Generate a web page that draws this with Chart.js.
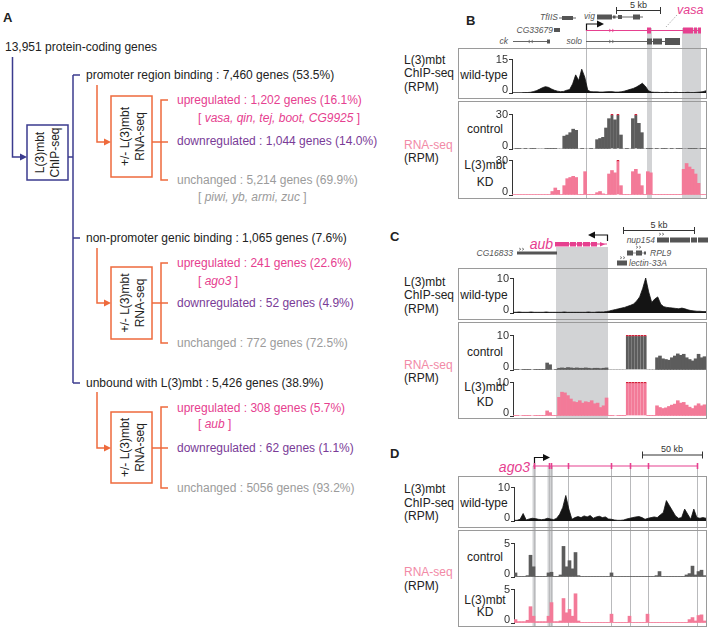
<!DOCTYPE html>
<html><head><meta charset="utf-8">
<script src="https://cdn.jsdelivr.net/npm/chart.js@4.4.1/dist/chart.umd.min.js"></script>
<style>
html,body{margin:0;padding:0;background:#fff;}
#root{position:relative;width:709px;height:628px;overflow:hidden;font-family:"Liberation Sans",Arial,sans-serif;}
#bg{position:absolute;left:0;top:0;}
canvas{position:absolute;}
</style></head><body><div id="root">
<svg id="bg" width="709" height="628" xmlns="http://www.w3.org/2000/svg" font-family="Liberation Sans, Arial, sans-serif">
<!-- ================= PANEL A ================= -->
<text x="3" y="22" font-size="13" font-weight="bold" fill="#222">A</text>
<text x="5" y="51" font-size="12" fill="#222">13,951 protein-coding genes</text>
<g stroke="#3b3b8e" stroke-width="1.5" fill="none">
  <polyline points="12.5,57 12.5,157 21,157"/>
  <rect x="27" y="125" width="41" height="55"/>
  <line x1="68" y1="157" x2="73" y2="157"/>
  <line x1="73" y1="75" x2="73" y2="383"/>
  <line x1="73" y1="75" x2="80" y2="75"/>
  <line x1="73" y1="238" x2="80" y2="238"/>
  <line x1="73" y1="383" x2="80" y2="383"/>
</g>
<polygon points="27,157 20,153.5 20,160.5" fill="#3b3b8e"/>
<text transform="translate(44,152.5) rotate(-90)" text-anchor="middle" font-size="12" fill="#222">L(3)mbt</text>
<text transform="translate(59,152.5) rotate(-90)" text-anchor="middle" font-size="12" fill="#222">ChIP-seq</text>

<g stroke="#ee6a3c" stroke-width="1.5" fill="none">
  <polyline points="97,85 97,142 105,142"/>
  <rect x="111" y="96" width="41" height="81"/>
  <line x1="152" y1="142" x2="168" y2="142"/>
  <polyline points="168,100 161,100 161,180 168,180"/>
  <polyline points="97,248 97,303 105,303"/>
  <rect x="111" y="267" width="41" height="72"/>
  <line x1="152" y1="303" x2="168" y2="303"/>
  <polyline points="168,263 161,263 161,343 168,343"/>
  <polyline points="97,392 97,448 105,448"/>
  <rect x="111" y="412" width="41" height="71"/>
  <line x1="152" y1="448" x2="168" y2="448"/>
  <polyline points="168,407 161,407 161,488 168,488"/>
</g>
<g fill="#ee6a3c">
  <polygon points="111,142 104,138.5 104,145.5"/>
  <polygon points="111,303 104,299.5 104,306.5"/>
  <polygon points="111,448 104,444.5 104,451.5"/>
</g>
<g font-size="12" fill="#222" text-anchor="middle">
  <text transform="translate(129,136.5) rotate(-90)">+/- L(3)mbt</text>
  <text transform="translate(144,136.5) rotate(-90)">RNA-seq</text>
  <text transform="translate(129,303) rotate(-90)">+/- L(3)mbt</text>
  <text transform="translate(144,303) rotate(-90)">RNA-seq</text>
  <text transform="translate(129,447.5) rotate(-90)">+/- L(3)mbt</text>
  <text transform="translate(144,447.5) rotate(-90)">RNA-seq</text>
</g>
<g font-size="12" xml:space="preserve">
  <text x="86" y="79" fill="#222">promoter region binding : 7,460 genes (53.5%)</text>
  <text x="177" y="104" fill="#e6408f">upregulated : 1,202 genes (16.1%)</text>
  <text x="198" y="122" fill="#e6408f">[  <tspan font-style="italic">vasa, qin, tej, boot, CG9925</tspan>  ]</text>
  <text x="177" y="145" fill="#7a3b97">downregulated : 1,044 genes (14.0%)</text>
  <text x="177" y="184" fill="#9b9b9b">unchanged : 5,214 genes (69.9%)</text>
  <text x="198" y="201" fill="#9b9b9b">[  <tspan font-style="italic">piwi, yb, armi, zuc</tspan>  ]</text>

  <text x="86" y="242" fill="#222">non-promoter genic binding : 1,065 genes (7.6%)</text>
  <text x="177" y="267" fill="#e6408f">upregulated : 241 genes (22.6%)</text>
  <text x="198" y="285" fill="#e6408f">[  <tspan font-style="italic">ago3</tspan>  ]</text>
  <text x="177" y="307" fill="#7a3b97">downregulated : 52 genes (4.9%)</text>
  <text x="177" y="347" fill="#9b9b9b">unchanged : 772 genes (72.5%)</text>

  <text x="86" y="387" fill="#222">unbound with L(3)mbt : 5,426 genes (38.9%)</text>
  <text x="177" y="412" fill="#e6408f">upregulated : 308 genes (5.7%)</text>
  <text x="198" y="428" fill="#e6408f">[  <tspan font-style="italic">aub</tspan>  ]</text>
  <text x="177" y="452" fill="#7a3b97">downregulated : 62 genes (1.1%)</text>
  <text x="177" y="492" fill="#9b9b9b">unchanged : 5056 genes (93.2%)</text>
</g>

<!-- ================= PANEL LETTERS ================= -->
<g font-size="13" font-weight="bold" fill="#222">
  <text x="466" y="25">B</text>
  <text x="390" y="241">C</text>
  <text x="390" y="458">D</text>
</g>

<!-- ================= SHADING / GUIDE LINES ================= -->
<g fill="#d2d3d5">
  <rect x="647" y="28" width="5" height="171"/>
  <rect x="682" y="28" width="19" height="171"/>
  <rect x="556" y="247" width="52" height="172"/>
  <rect x="532.5" y="466" width="3.5" height="161"/>
  <rect x="547.5" y="466" width="5.5" height="161"/>
</g>
<g stroke="#b9babc" stroke-width="1">
  <line x1="586.5" y1="24" x2="586.5" y2="199"/>
  <line x1="534.5" y1="466" x2="534.5" y2="627"/>
  <line x1="549.5" y1="466" x2="549.5" y2="627"/>
  <line x1="551.5" y1="466" x2="551.5" y2="627"/>
  <line x1="568.5" y1="466" x2="568.5" y2="627"/>
  <line x1="611.5" y1="466" x2="611.5" y2="627"/>
  <line x1="630.5" y1="466" x2="630.5" y2="627"/>
  <line x1="648.5" y1="466" x2="648.5" y2="627"/>
  <line x1="697.5" y1="466" x2="697.5" y2="627"/>
</g>

<!-- ================= TRACK FRAMES ================= -->
<g stroke="#9a9a9a" stroke-width="1" fill="none">
  <rect x="458.5" y="48.5" width="248" height="50"/>
  <rect x="458.5" y="101.5" width="248" height="97"/>
  <rect x="458.5" y="268.5" width="248" height="51"/>
  <rect x="458.5" y="322.5" width="248" height="96"/>
  <rect x="458.5" y="476.5" width="248" height="51"/>
  <rect x="458.5" y="530.5" width="248" height="96"/>
</g>

<!-- ================= TRACK LABELS ================= -->
<g font-size="12" fill="#222">
  <text x="404" y="64">L(3)mbt</text><text x="404" y="77">ChIP-seq</text><text x="404" y="91">(RPM)</text>
  <text x="404" y="149" fill="#f28aa6">RNA-seq</text><text x="404" y="162">(RPM)</text>
  <text x="404" y="286">L(3)mbt</text><text x="404" y="299">ChIP-seq</text><text x="404" y="313">(RPM)</text>
  <text x="404" y="369" fill="#f28aa6">RNA-seq</text><text x="404" y="382">(RPM)</text>
  <text x="404" y="493">L(3)mbt</text><text x="404" y="507">ChIP-seq</text><text x="404" y="520">(RPM)</text>
  <text x="404" y="576" fill="#f28aa6">RNA-seq</text><text x="404" y="590">(RPM)</text>
</g>
<g font-size="12" fill="#222" text-anchor="middle">
  <text x="484" y="79">wild-type</text>
  <text x="485" y="133">control</text><text x="485" y="169">L(3)mbt</text><text x="485" y="186">KD</text>
  <text x="484" y="299">wild-type</text>
  <text x="485" y="356">control</text><text x="485" y="391">L(3)mbt</text><text x="485" y="406">KD</text>
  <text x="484" y="507">wild-type</text>
  <text x="485" y="561">control</text><text x="485" y="604">L(3)mbt</text><text x="485" y="616">KD</text>
</g>

<!-- ================= GENE MODELS B ================= -->
<text x="638.5" y="7.5" font-size="9" text-anchor="middle" fill="#333">5 kb</text>
<path d="M616,10.5 H661 M616.5,7 V14 M660.5,7 V14" stroke="#333" stroke-width="1" fill="none"/>
<text x="677" y="14" font-size="12.5" font-style="italic" fill="#e6408f">vasa</text>
<line x1="677" y1="15" x2="666" y2="27" stroke="#999" stroke-width="0.8" stroke-dasharray="1.5,1.5"/>
<g font-size="8.5" font-style="italic" fill="#555">
  <text x="558" y="20" text-anchor="end">TfIIS</text>
  <text x="584" y="19">vig</text>
  <text x="553" y="33" text-anchor="end">CG33679</text>
  <text x="508" y="44" text-anchor="end">ck</text>
  <text x="582" y="44" text-anchor="end">solo</text>
</g>
<g stroke="#666" stroke-width="1" fill="none">
  <line x1="559" y1="18" x2="576" y2="18"/>
  <line x1="597" y1="17" x2="643" y2="17"/>
  <line x1="513" y1="41.5" x2="550" y2="41.5"/>
  <line x1="586" y1="41.5" x2="680" y2="41.5"/>
  <path d="M530,40 l-2,1.5 l2,1.5 M533,40 l-2,1.5 l2,1.5 M609,40 l2,1.5 l-2,1.5 M612,40 l2,1.5 l-2,1.5" stroke-width="0.7"/>
</g>
<g fill="#555">
  <rect x="562" y="16" width="11" height="4"/>
  <rect x="597" y="14.5" width="15" height="5"/>
  <rect x="613" y="15.5" width="2.5" height="3"/>
  <rect x="618" y="15" width="4" height="4"/>
  <rect x="633" y="14.5" width="7" height="5"/>
  <rect x="554" y="28" width="6" height="4"/>
  <rect x="547" y="39.5" width="3" height="4"/>
  <rect x="647" y="38.5" width="5" height="6"/>
  <rect x="653" y="38.5" width="9" height="6"/>
  <rect x="665" y="38" width="15" height="7"/>
</g>
<path d="M586.5,31 V24 H599" stroke="#111" stroke-width="1.2" fill="none"/>
<polygon points="604,24 597,20.5 597,27.5" fill="#111"/>
<line x1="586" y1="30.5" x2="700" y2="30.5" stroke="#e6408f" stroke-width="1.2"/>
<path d="M609,29 l2,1.5 l-2,1.5 M612,29 l2,1.5 l-2,1.5" stroke="#e6408f" stroke-width="0.7" fill="none"/>
<g fill="#e6408f">
  <rect x="647" y="27.5" width="4" height="6"/>
  <rect x="683" y="27.5" width="10" height="6"/>
  <rect x="694" y="27.5" width="3" height="6"/>
  <rect x="698" y="27.5" width="3" height="6"/>
</g>

<!-- ================= GENE MODELS C ================= -->
<text x="659" y="227.5" font-size="9" text-anchor="middle" fill="#333">5 kb</text>
<path d="M623,230.5 H695 M623.5,227 V234 M694.5,227 V234" stroke="#333" stroke-width="1" fill="none"/>
<path d="M607.5,241 V235 H593" stroke="#111" stroke-width="1.2" fill="none"/>
<polygon points="588,235 595,231.5 595,238.5" fill="#111"/>
<text x="553" y="249" font-size="14" font-style="italic" text-anchor="end" fill="#e6408f">aub</text>
<line x1="555" y1="244" x2="607" y2="244" stroke="#e6408f" stroke-width="1.2"/>
<g fill="#e6408f">
  <rect x="555" y="242" width="14" height="4.5"/>
  <rect x="570" y="242" width="6" height="4.5"/>
  <rect x="577" y="242" width="5" height="4.5"/>
  <rect x="583" y="242" width="7" height="4.5"/>
  <rect x="591" y="242" width="6" height="4.5"/>
  <polygon points="600,242 605,244.25 600,246.5"/>
</g>
<g font-size="8.5" font-style="italic" fill="#555">
  <text x="513" y="256" text-anchor="end">CG16833</text>
  <text x="655" y="243" text-anchor="end">nup154</text>
  <text x="650" y="256">RPL9</text>
  <text x="629" y="266">lectin-33A</text>
</g>
<g fill="#555">
  <rect x="517" y="251.5" width="40" height="3"/>
  <rect x="657" y="237.5" width="12" height="5"/>
  <rect x="670" y="237.5" width="20" height="5"/>
  <rect x="691" y="237.5" width="6" height="5"/>
  <rect x="698" y="237.5" width="10" height="5"/>
  <rect x="627" y="250.5" width="6" height="5"/>
  <rect x="636" y="250.5" width="6" height="5"/>
  <rect x="644" y="251.5" width="2" height="3"/>
  <rect x="617" y="260.5" width="10" height="5"/>
</g>
<g stroke="#666" stroke-width="0.7" fill="none">
  <line x1="633" y1="253" x2="646" y2="253"/>
  <path d="M519,248 l2,1.2 l-2,1.2 M522,248 l2,1.2 l-2,1.2 M659,233 l2,1.2 l-2,1.2 M662,233 l2,1.2 l-2,1.2 M636,246 l2,1.2 l-2,1.2 M639,246 l2,1.2 l-2,1.2 M620,256.5 l2,1.2 l-2,1.2 M623,256.5 l2,1.2 l-2,1.2"/>
</g>

<!-- ================= GENE MODELS D ================= -->
<text x="672" y="452" font-size="9" text-anchor="middle" fill="#333">50 kb</text>
<path d="M642,455 H703 M642.5,451.5 V458.5 M702.5,451.5 V458.5" stroke="#333" stroke-width="1" fill="none"/>
<text x="530" y="472" font-size="14" font-style="italic" text-anchor="end" fill="#e6408f">ago3</text>
<path d="M534.5,466 V457.5 H545" stroke="#111" stroke-width="1.2" fill="none"/>
<polygon points="550,457.5 543,454 543,461" fill="#111"/>
<line x1="533" y1="466" x2="698" y2="466" stroke="#e6408f" stroke-width="1.2"/>
<g stroke="#e6408f" stroke-width="1.6">
  <line x1="534.5" y1="463" x2="534.5" y2="469"/>
  <line x1="549.5" y1="463" x2="549.5" y2="469"/>
  <line x1="551.5" y1="463" x2="551.5" y2="469"/>
  <line x1="568.5" y1="463" x2="568.5" y2="469"/>
  <line x1="611.5" y1="463" x2="611.5" y2="469"/>
  <line x1="630.5" y1="463" x2="630.5" y2="469"/>
  <line x1="648.5" y1="463" x2="648.5" y2="469"/>
  <line x1="697.5" y1="463" x2="697.5" y2="469"/>
</g>
</svg>

<canvas id="bWT"></canvas><canvas id="bCtrl"></canvas><canvas id="bKD"></canvas>
<canvas id="cWT"></canvas><canvas id="cCtrl"></canvas><canvas id="cKD"></canvas>
<canvas id="dWT"></canvas><canvas id="dCtrl"></canvas><canvas id="dKD"></canvas>
</div>
<script>
// ---------------- DATA (binned coverage) ----------------
// Panel B (vasa locus) — 65 bins
const bChipWT = [0.1,0.1,0.1,0.1,0.2,0.2,0.3,0.6,1.0,1.6,
  2.3,2.8,2.5,1.8,1.2,0.8,0.6,0.7,1.2,1.5,
  4.0,8.0,5.5,10.5,7.0,1.2,0.6,0.5,0.5,0.4,
  0.4,0.5,0.6,0.6,0.4,0.4,0.5,0.8,1.2,1.6,
  2.0,2.6,3.4,4.3,3.0,1.0,0.4,0.3,0.3,0.2,
  0.2,0.3,0.2,0.2,0.3,0.2,0.2,0.2,0.3,0.2,
  0.2,0.3,0.4,0.6,1.0];
const bRnaControl = [0,0.6,0.6,0,0.6,0,0.6,0.6,0,0,
  0,0.6,0.6,0.6,0.6,0,0,
  11,12,14,17,16,
  0,0.6,0,0,0.6,0,
  8,9,10,18,26,30,25,30,12,
  0,0.6,0,
  26,30,22,14,
  0,0.6,0.6,0,0.6,0,0.6,0.6,0,0.6,0,0.6,0.6,0,0,0.6,0.6,0.6,0,0.6,0.6];
const bRnaKD = [0.5,0.5,0.5,0.5,0.5,0.5,0.5,0.5,0.5,0.5,0.5,0.5,0.5,
  3,6,4,0.5,
  8,14,15,16,15,
  0.5,0.3,
  20,
  0.3,0.3,0.3,
  2,3,1,0.5,
  18,21,19,30,8,
  0.3,0.3,0.5,
  20,22,18,8,
  0.3,
  20,19,
  0.3,0.3,0.3,0.3,0.3,0.3,0.3,0.3,0.3,0.3,
  22,27,24,22,18,10,
  0.3,0.3];
// Panel C (aub locus) — 65 bins
const cChipWT = [0.2,0.2,0.3,0.2,0.2,0.2,0.3,0.2,0.2,0.2,
  0.2,0.3,0.2,0.2,0.2,0.2,0.2,0.3,0.2,0.2,
  0.2,0.2,0.2,0.2,0.2,0.3,0.2,0.2,0.3,0.3,
  0.3,0.4,0.6,0.8,1.0,1.2,1.4,1.6,1.9,2.2,
  2.6,3.4,4.6,7.0,10.0,6.0,3.0,4.0,4.6,2.5,
  1.8,1.6,1.5,1.4,1.3,1.2,1.4,1.2,0.9,0.7,
  0.6,0.5,0.5,0.4,0.4];
const cRnaControl = [0.2,0.2,0,0.2,0.2,0.2,0,0.2,0.2,0.1,
  0.1,2.0,1.5,0,0.1,
  0.5,0.6,0.5,0.7,0.6,0.5,0.6,0.5,0.5,0.6,0.5,0.4,0.5,0.5,0.4,0.5,0.6,
  0,0,0,0,0,0,
  10,10,10,10,10,10,10,
  0,0,0,
  3.5,4.0,3.2,3.0,2.8,3.5,4.0,4.6,4.2,4.5,3.5,3.0,2.6,3.2,4.5,3.5,3.8];
const cRnaKD = [0.2,0.2,0,0.2,0.2,0.2,0,0.2,0.2,0.2,
  0.2,1.5,1.0,0.1,0.1,
  5.5,7.0,6.8,6.0,5.0,4.2,4.0,4.5,3.8,4.2,4.0,4.5,3.6,3.8,2.5,3.0,5.3,
  0.2,0.2,0,0.2,0.2,0.2,
  10,10,10,10,10,10,10,
  0.1,0.1,0.1,
  3.0,2.5,2.2,2.4,2.8,3.2,3.5,4.5,3.8,4.0,3.2,2.6,2.2,3.0,3.6,3.0,3.3];
// Panel D (ago3 locus) — 64 bins
const dChipWT = [0.2,0.2,0.5,2.2,0.3,0.6,0.8,0.7,0.5,0.4,
  0.5,0.8,0.6,0.4,0.8,2.0,4.0,7.5,3.5,0.5,
  1.0,1.3,1.0,1.5,1.2,1.6,0.8,1.2,1.4,1.0,
  1.2,0.6,0.5,0.3,0.2,0.2,0.3,0.6,0.8,1.0,
  1.2,1.3,1.0,0.5,0.8,1.0,1.2,1.0,1.8,2.5,
  6.0,4.5,3.0,1.5,0.8,1.0,3.5,2.0,0.5,3.5,
  1.0,0.8,1.0,0.8];
const dRnaControl = [0.6,0.1,0.1,0.1,0.2,3.2,1.5,0.1,0.1,0.1,
  0.1,0.6,0.7,0.1,0.1,0.3,4.5,1.5,2.4,1.2,
  3.6,0.2,0.05,0.05,0.05,0.05,0.05,0.05,0.05,0.05,
  0.05,0.05,0.6,0.05,0.05,0.05,0.05,0.05,0.05,0.05,
  0.05,0.05,0.05,0.05,0.05,0.05,0.05,0.2,0.8,0.1,
  0.1,0.1,0.1,0.1,0.1,0.1,0.1,0.3,0.5,1.6,
  0.3,0.8,1.0,0.2];
const dRnaKD = [0.5,0.2,0.2,0.2,0.4,2.4,1.0,0.2,0.2,0.2,
  0.2,1.0,3.0,0.2,0.2,0.3,3.6,1.5,2.0,1.0,
  4.3,0.3,0.1,0.1,0.1,0.1,0.1,0.1,0.1,0.1,
  0.1,0.1,1.3,0.1,0.1,0.1,0.1,0.1,1.0,0.1,
  0.1,0.1,0.1,0.1,1.3,0.1,0.1,0.1,0.1,0.1,
  0.1,0.1,0.1,0.1,0.1,0.1,0.1,0.1,0.5,0.8,
  0.3,1.1,1.2,0.3];
// Y-axis tick labels (min / max of each track)
const ticksB = [0, 15, 30];   // ChIP max 15, RNA max 30
const ticksC = [0, 10];
const ticksD = [0, 10, 5];    // ChIP max 10, RNA max 5

// ---------------- RENDERING ----------------
Chart.defaults.font.family = '"Liberation Sans", Arial, sans-serif';
const AX = 34, PAD = 8;
// axis labels drawn at the y-scale's own tick pixels (0 label nudged up like the figure)
const axisLabels = {
  id: 'axisLabels',
  afterDraw(chart) {
    const s = chart.scales.y, ctx = chart.ctx;
    ctx.save();
    ctx.fillStyle = '#333';
    ctx.font = '11px "Liberation Sans", Arial, sans-serif';
    ctx.textAlign = 'right';
    ctx.textBaseline = 'middle';
    s.ticks.forEach(t => {
      const y = s.getPixelForValue(t.value) + (t.value === 0 ? -3 : 1);
      ctx.fillText(String(t.value), s.right - 4, y);
    });
    ctx.restore();
  }
};
function track(id, x0, x1, top, bot, data, max, color, kind) {
  const c = document.getElementById(id);
  c.style.left = (x0 - AX) + 'px';
  c.style.top = (top - PAD) + 'px';
  c.width = (x1 - x0) + AX;
  c.height = (bot - top) + 2 * PAD;
  c.style.width = c.width + 'px';
  c.style.height = c.height + 'px';
  const vals = data.map(v => Math.min(v, max));
  const ds = kind === 'line' ? {
      data: vals, fill: 'origin', backgroundColor: color, borderColor: color,
      borderWidth: 0.8, pointRadius: 0, tension: 0
    } : {
      data: vals, backgroundColor: color, borderColor: '#d3213a',
      borderWidth: ctx => (ctx.raw >= max ? {top: 1.5, left: 0, right: 0, bottom: 0} : 0),
      borderSkipped: 'start', categoryPercentage: 1, barPercentage: 1
    };
  new Chart(c, {
    type: kind,
    data: {labels: data.map((_, i) => i), datasets: [ds]},
    plugins: [axisLabels],
    options: {
      responsive: false, animation: false, devicePixelRatio: 1,
      layout: {padding: {top: PAD, bottom: PAD, left: 0, right: 0}},
      plugins: {legend: {display: false}, tooltip: {enabled: false}},
      scales: {
        x: {display: false, offset: kind !== 'line'},
        y: {
          min: 0, max: max,
          afterFit(s) { s.width = AX; },
          afterBuildTicks(s) { s.ticks = [{value: 0}, {value: max}]; },
          grid: {drawOnChartArea: false, drawTicks: true, tickLength: 3, color: '#333', lineWidth: 1},
          border: {display: true, color: '#333', width: 1},
          ticks: {display: false}
        }
      }
    }
  });
}
const BLACK = '#141414', GREY = '#5c5c5c', PINK = '#f37a98';
track('bWT',   512, 706, 59, 93,  bChipWT,    ticksB[1], BLACK, 'line');
track('bCtrl', 512, 706, 114, 149, bRnaControl, ticksB[2], GREY, 'bar');
track('bKD',   512, 706, 160, 195, bRnaKD,    ticksB[2], PINK, 'bar');
track('cWT',   513, 706, 278, 313, cChipWT,   ticksC[1], BLACK, 'line');
track('cCtrl', 513, 706, 335, 370, cRnaControl, ticksC[1], GREY, 'bar');
track('cKD',   513, 706, 382, 416, cRnaKD,    ticksC[1], PINK, 'bar');
track('dWT',   514, 706, 487, 521, dChipWT,   ticksD[1], BLACK, 'line');
track('dCtrl', 514, 706, 543, 577, dRnaControl, ticksD[2], GREY, 'bar');
track('dKD',   514, 706, 589, 623, dRnaKD,    ticksD[2], PINK, 'bar');
</script>
</body></html>
